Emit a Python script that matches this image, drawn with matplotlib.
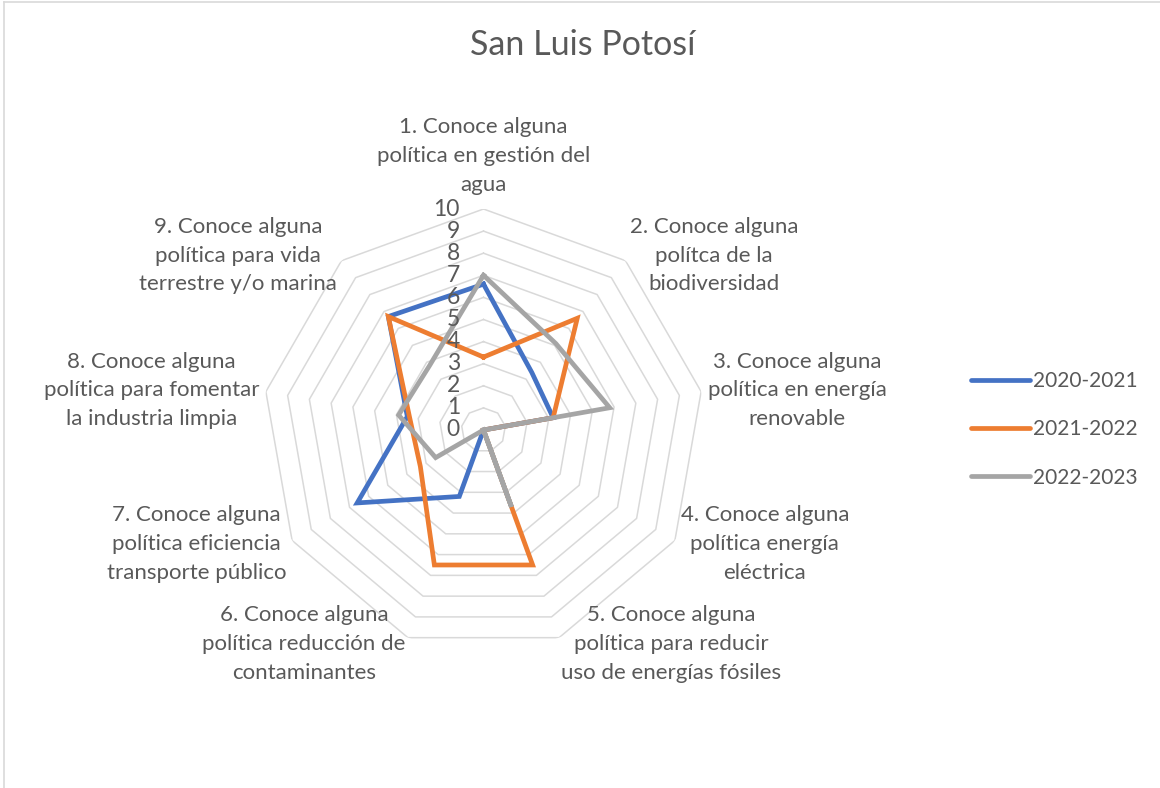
import numpy as np
import matplotlib
matplotlib.use("Agg")
import matplotlib.pyplot as plt
from matplotlib.lines import Line2D

categories = [
    "1. Conoce alguna\npolítica en gestión del\nagua",
    "2. Conoce alguna\npolítca de la\nbiodiversidad",
    "3. Conoce alguna\npolítica en energía\nrenovable",
    "4. Conoce alguna\npolítica energía\neléctrica",
    "5. Conoce alguna\npolítica para reducir\nuso de energías fósiles",
    "6. Conoce alguna\npolítica reducción de\ncontaminantes",
    "7. Conoce alguna\npolítica eficiencia\ntransporte público",
    "8. Conoce alguna\npolítica para fomentar\nla industria limpia",
    "9. Conoce alguna\npolítica para vida\nterrestre y/o marina",
]
series_names = ["2020-2021", "2021-2022", "2022-2023"]
s2020 = [6.6, 3.4, 3.2, 0, 0, 3.2, 6.6, 3.5, 6.7]
s2021 = [3.3, 6.6, 3.2, 0, 6.5, 6.5, 3.3, 3.4, 6.7]
s2022 = [7.0, 5.1, 5.8, 0, 3.7, 0, 2.5, 3.9, 3.8]
radial_ticks = list(range(0, 11))

colors = ["#4472C4", "#ED7D31", "#A5A5A5"]
text_color = "#595959"
grid_color = "#D9D9D9"
font = "Lato"

W, H = 1160, 788
fig = plt.figure(figsize=(W / 100, H / 100), dpi=100)
fig.patch.set_facecolor("white")

cx, cy, R = 483.5, 430, 221
ax = fig.add_axes([(cx - R) / W, (H - cy - R) / H, 2 * R / W, 2 * R / H],
                  projection="polar")
ax.set_theta_offset(np.pi / 2)
ax.set_theta_direction(-1)
ax.set_ylim(0, 10)
ax.grid(False)
ax.spines["polar"].set_visible(False)
ax.set_xticks([])
ax.set_yticks([])
ax.patch.set_alpha(0)

n = len(categories)
theta = np.arange(n) * 2 * np.pi / n
theta_closed = np.append(theta, theta[0])

# nonagon grid rings
for r in radial_ticks[1:]:
    ax.plot(theta_closed, [r] * (n + 1), color=grid_color, lw=1.1, zorder=1)

# radial tick labels
for r in radial_ticks:
    ax.annotate(str(r), xy=(0, r), xytext=(-17, 0), textcoords="offset points",
                ha="right", va="center", fontsize=16.5, color=text_color,
                family=font, zorder=5)

# series
for vals, name, c in zip([s2020, s2021, s2022], series_names, colors):
    v = np.append(vals, vals[0])
    ax.plot(theta_closed, v, color=c, lw=3.4, label=name,
            solid_joinstyle="miter", zorder=3)

# category labels
for t, lab in zip(theta, categories):
    ang = np.pi / 2 - t
    c = np.cos(ang)
    if abs(c) < 1e-6:
        ha, va, rr = "center", "bottom", 10.65
    elif c > 0:
        ha, va, rr = "left", "center", 10.3
    else:
        ha, va, rr = "right", "center", 10.3
    ax.text(t, rr, lab, ha=ha, va=va, multialignment="center",
            fontsize=16, color=text_color, family=font, linespacing=1.55)

fig.text(0.502, 0.943, "San Luis Potosí", ha="center", va="center",
         fontsize=24.5, color=text_color, family=font)

handles = [Line2D([0], [0], color=c, lw=3.4, solid_capstyle="round")
           for c in colors]
fig.legend(handles, series_names, loc="center left",
           bbox_to_anchor=(0.821, 0.455), frameon=False, handlelength=2.85,
           handletextpad=0.1, labelspacing=1.35,
           labelcolor=text_color, prop={"family": font, "size": 15})

# chart area border (left and top visible)
fig.add_artist(Line2D([3.5 / W, 3.5 / W], [0, 1 - 1.5 / H], color=grid_color,
                      lw=1.2, transform=fig.transFigure))
fig.add_artist(Line2D([3.5 / W, 1], [1 - 1.5 / H, 1 - 1.5 / H], color=grid_color,
                      lw=1.2, transform=fig.transFigure))

fig.savefig("out.png", dpi=100, facecolor="white")
